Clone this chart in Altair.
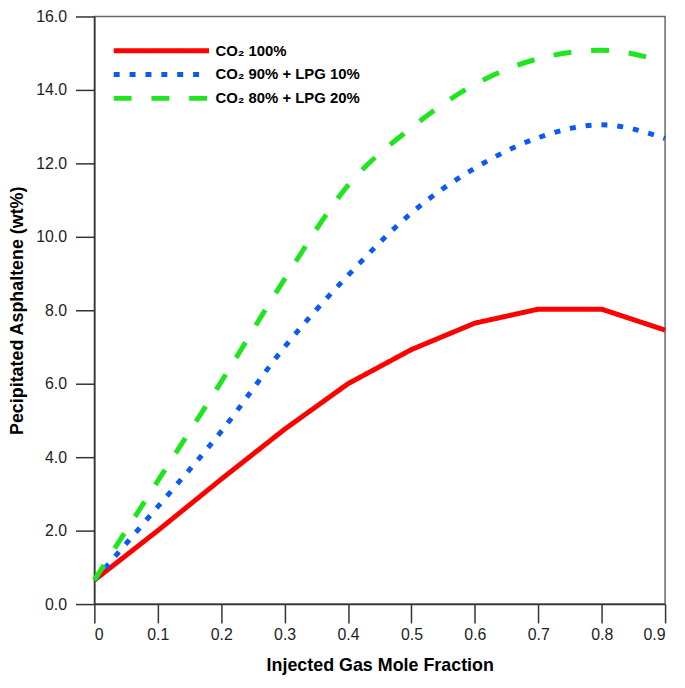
import altair as alt
import pandas as pd

x_vals = [0.0, 0.1, 0.2, 0.3, 0.4, 0.5, 0.6, 0.7, 0.8, 0.9]
co2_100 = [0.65, 2.0, 3.4, 4.76, 6.0, 6.93, 7.65, 8.03, 8.03, 7.46]
co2_90_lpg_10 = [0.65, 2.65, 4.7, 7.0, 8.95, 10.65, 11.87, 12.7, 13.05, 12.68]
co2_80_lpg_20 = [0.65, 3.35, 6.05, 8.85, 11.4, 12.97, 14.15, 14.85, 15.08, 14.76]

series_names = ["CO₂ 100%", "CO₂ 90% + LPG 10%", "CO₂ 80% + LPG 20%"]
series_colors = ["#ff0000", "#0a5af5", "#1ee61e"]
series_dash = [[1, 0], [6, 10], [18, 20]]
x_ticks = [0.0, 0.1, 0.2, 0.3, 0.4, 0.5, 0.6, 0.7, 0.8, 0.9]
y_ticks = [0, 2, 4, 6, 8, 10, 12, 14, 16]

rows = []
for name, vals in zip(series_names, [co2_100, co2_90_lpg_10, co2_80_lpg_20]):
    for xv, yv in zip(x_vals, vals):
        rows.append({"x": xv, "y": yv, "series": name})
df = pd.DataFrame(rows)

FONT = "Liberation Sans"

x_enc = alt.X("x:Q", scale=alt.Scale(domain=[0, 0.9], nice=False, zero=False),
              axis=alt.Axis(title="Injected Gas Mole Fraction", values=x_ticks,
                            labelExpr="datum.value == 0 ? '0' : format(datum.value, '.1f')",
                            grid=False, tickSize=19, labelPadding=4, titlePadding=14))
y_enc = alt.Y("y:Q", scale=alt.Scale(domain=[0, 16], nice=False),
              axis=alt.Axis(title="Pecipitated Asphaltene (wt%)", values=y_ticks, format=".1f",
                            grid=False, tickSize=19, labelPadding=9, titlePadding=9))

color_enc = alt.Color("series:N", scale=alt.Scale(domain=series_names, range=series_colors),
                      legend=alt.Legend(title=None, orient="none", legendX=17, legendY=22,
                                        symbolType="M-1,0H8.6", symbolSize=400,
                                        symbolStrokeWidth=5, labelOffset=80,
                                        labelFont=FONT, labelFontSize=15, labelFontWeight="bold",
                                        labelColor="#000", rowPadding=1, labelLimit=400))
dash_enc = alt.StrokeDash("series:N", scale=alt.Scale(domain=series_names, range=series_dash),
                          legend=None)

red = alt.Chart(df).transform_filter(alt.datum.series == series_names[0]).mark_line(
    strokeWidth=5, interpolate="linear", strokeJoin="round").encode(
    x=x_enc, y=y_enc, color=color_enc, strokeDash=dash_enc)
others = alt.Chart(df).transform_filter(alt.datum.series != series_names[0]).mark_line(
    strokeWidth=5, interpolate="monotone").encode(
    x=x_enc, y=y_enc, color=color_enc, strokeDash=dash_enc)

chart = alt.layer(red, others).properties(
    width=575, height=592,
    background="white",
    autosize=alt.AutoSizeParams(type="none"),
    padding={"left": 87, "top": 6, "right": 12, "bottom": 80},
).configure_view(stroke="#666", strokeWidth=1.5).configure_axis(
    domainColor="#333", domainWidth=1.5, tickColor="#333", tickWidth=1.5,
    labelFont=FONT, labelFontSize=16, labelColor="#222",
    titleFont=FONT, titleFontSize=18, titleFontWeight="bold", titleColor="#000"
)

chart.save("out.html", embed_options={"renderer": "svg", "actions": False})
